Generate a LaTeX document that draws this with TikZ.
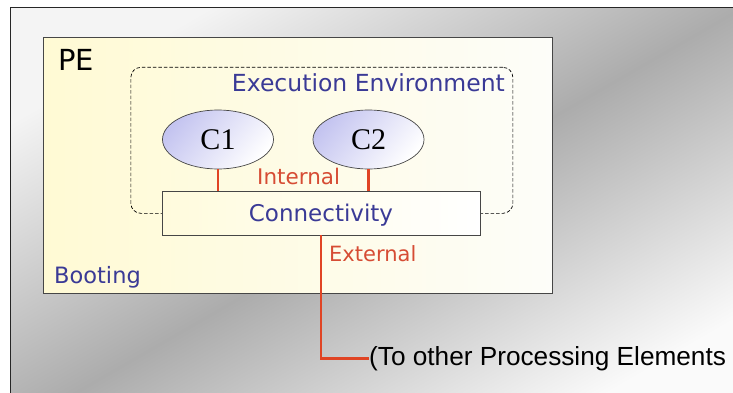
\documentclass[tikz,border=0pt]{standalone}
\usepackage{fontspec}
\usetikzlibrary{shapes.geometric}
\newfontfamily\verdfont{DejaVu Sans}
\newfontfamily\arialfont{Liberation Sans}
\newfontfamily\timesfont{Liberation Serif}
\definecolor{peblue}{RGB}{58,58,150}
\definecolor{linkred}{RGB}{224,68,36}
\definecolor{labelred}{RGB}{214,76,52}
\definecolor{bglight}{RGB}{244,244,244}
\definecolor{bgdark}{RGB}{172,172,172}
\definecolor{bgend}{RGB}{250,250,250}
\definecolor{peyellow}{RGB}{255,250,212}
\definecolor{pewhite}{RGB}{253,253,249}
\definecolor{lavender}{RGB}{196,196,240}
\definecolor{edgegray}{RGB}{70,70,70}
\begin{document}
\begin{tikzpicture}[x=1pt,y=-1pt,
  lbl/.style={inner sep=0pt, anchor=base west},
  sans/.style={font=\verdfont\fontsize{#1}{#1}\selectfont},
  link/.style={draw=linkred, line width=2.8pt},
  comp/.style={ellipse, draw=edgegray, line width=0.7pt,
    minimum width=111pt, minimum height=59pt, inner sep=0pt,
    top color=lavender, bottom color=white, shading angle=50,
    font=\timesfont\fontsize{30}{30}\selectfont},
  boxed/.style={rectangle, draw=edgegray, line width=0.8pt, inner sep=0pt}]
  \clip (0,0) rectangle (733,393);
  \fill[white] (0,0) rectangle (733,393);
  % slide background with its frame
  \path[draw=black!85, line width=1.3pt, top color=bglight, bottom color=bgend,
        middle color=bgdark, shading angle=30]
    (10.5,7.5) rectangle (760,420);
  % processing element
  \node[boxed, anchor=north west, minimum width=509pt, minimum height=256pt,
        left color=peyellow, right color=pewhite] (pe) at (43,37) {};
  \node[lbl, sans=29, text=black] (pelbl) at (58,71) {PE};
  \node[lbl, sans=22.5, text=peblue] (boot) at (54,283) {Booting};
  % execution environment
  \node[anchor=north west, draw=black, dashed, dash pattern=on 3.5pt off 2pt,
        line width=0.7pt, rounded corners=10pt,
        minimum width=382pt, minimum height=146pt] (env) at (130.5,67) {};
  \node[lbl, anchor=base east, sans=23.5, text=peblue] (envlbl) at (505,91.5)
    {Execution Environment};
  % components
  \node[comp] (c1) at (218,139.5) {C1};
  \node[comp] (c2) at (368.5,139.5) {C2};
  % connectivity layer
  \node[boxed, minimum width=318pt, minimum height=44pt, text depth=0pt,
        sans=23, text=peblue, left color=peyellow!80!white, right color=white]
    (conn) at (321,213) {Connectivity};
  \node[lbl, sans=21.5, text=labelred] (intl) at (257,184) {Internal};
  \node[lbl, sans=21, text=labelred] (extl) at (329,261.5) {External};
  \node[lbl, font=\arialfont\fontsize{26.2}{26.2}\selectfont, text=black] (other)
    at (369,365) {(To other Processing Elements};
  % links
  \draw[link] (c1.south) -- (c1.south |- conn.north);
  \draw[link] (c2.south) -- (c2.south |- conn.north);
  \draw[link] (conn.south) |- (other.west);
\end{tikzpicture}
\end{document}
